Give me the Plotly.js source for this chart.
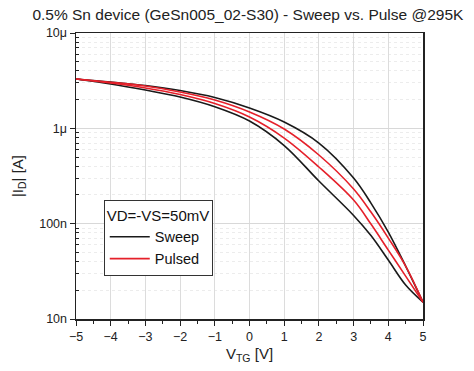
<!DOCTYPE html>
<html>
<head>
<meta charset="utf-8">
<script src="https://cdn.plot.ly/plotly-3.0.1.min.js"></script>
<style>html,body{margin:0;padding:0;background:#fff;}#chart{width:474px;height:371px;}</style>
</head>
<body>
<div id="chart"></div>
<script>
var vtg = [-5, -4, -3, -2, -1, 0, 1, 2, 3, 3.5, 4, 4.5, 5];
var sweepA = [3.29e-6, 3.06e-6, 2.81e-6, 2.49e-6, 2.105e-6, 1.633e-6, 1.164e-6, 7.01e-7, 3.01e-7, 1.645e-7, 8.16e-8, 3.59e-8, 1.50e-8];
var sweepB = [3.29e-6, 2.92e-6, 2.52e-6, 2.13e-6, 1.685e-6, 1.193e-6, 6.60e-7, 2.80e-7, 1.22e-7, 7.5e-8, 4.15e-8, 2.27e-8, 1.50e-8];
var pulsedA = [3.29e-6, 3.04e-6, 2.78e-6, 2.40e-6, 1.98e-6, 1.483e-6, 9.83e-7, 5.25e-7, 2.31e-7, 1.323e-7, 7.06e-8, 3.59e-8, 1.50e-8];
var pulsedB = [3.29e-6, 2.99e-6, 2.65e-6, 2.26e-6, 1.82e-6, 1.314e-6, 7.91e-7, 3.93e-7, 1.768e-7, 9.90e-8, 5.28e-8, 2.82e-8, 1.50e-8];
var yTickVals = [1e-8, 1e-7, 1e-6, 1e-5];
var yTickText = ['10n', '100n', '1\u03bc', '10\u03bc'];
var yMinorVals = [2e-8,3e-8,4e-8,5e-8,6e-8,7e-8,8e-8,9e-8,
                  2e-7,3e-7,4e-7,5e-7,6e-7,7e-7,8e-7,9e-7,
                  2e-6,3e-6,4e-6,5e-6,6e-6,7e-6,8e-6,9e-6];
var xTickVals = [-5, -4, -3, -2, -1, 0, 1, 2, 3, 4, 5];
var xMinorVals = [-4.5, -3.5, -2.5, -1.5, -0.5, 0.5, 1.5, 2.5, 3.5, 4.5];

var black = '#1a1a1a', red = '#e5202a';
function tr(y, color, name, show) {
  return {x: vtg, y: y, type: 'scatter', mode: 'lines', name: name, showlegend: show,
    line: {color: color, width: 1.6, shape: 'spline', smoothing: 1}};
}
var data = [
  tr(sweepA, black, 'Sweep', true),
  tr(sweepB, black, 'Sweep', false),
  tr(pulsedA, red, 'Pulsed', true),
  tr(pulsedB, red, 'Pulsed', false)
];
var fam = 'Liberation Sans, Arial, sans-serif';
var layout = {
  width: 474, height: 371,
  margin: {l: 76, r: 51, t: 33, b: 52},
  paper_bgcolor: '#fff', plot_bgcolor: '#fff',
  font: {family: fam, size: 12, color: '#222'},
  title: {text: '0.5% Sn device (GeSn005_02-S30) - Sweep vs. Pulse @295K', x: 0.523, xanchor: 'center', y: 0.962, yanchor: 'middle',
    font: {family: fam, size: 15.5, color: '#222'}},
  xaxis: {range: [-5, 5], tickmode: 'array', tickvals: xTickVals, ticks: 'outside', ticklen: 5, tickwidth: 1, tickcolor: '#222',
    showline: true, linecolor: '#222', linewidth: 1.5, mirror: true, zeroline: false,
    showgrid: true, gridcolor: '#dcdcdc', gridwidth: 1,
    minor: {tickmode: 'array', tickvals: xMinorVals, ticks: 'outside', ticklen: 3, tickcolor: '#222', showgrid: false},
    tickfont: {size: 12.5, color: '#222'},
    title: {text: 'V<sub>TG</sub> [V]', standoff: 6, font: {size: 15, color: '#222'}}},
  yaxis: {type: 'log', range: [-8, -5], tickmode: 'array', tickvals: yTickVals, ticktext: yTickText, ticks: 'outside', ticklen: 5, tickwidth: 1, tickcolor: '#222',
    showline: true, linecolor: '#222', linewidth: 1.5, mirror: true, zeroline: false,
    showgrid: true, gridcolor: '#d8d8d8', gridwidth: 1,
    minor: {tickmode: 'array', tickvals: yMinorVals, ticks: 'inside', ticklen: 3, tickcolor: '#222', showgrid: true, gridcolor: '#ececec', griddash: 'dot'},
    tickfont: {size: 12.5, color: '#222'},
    title: {text: '|I<sub>D</sub>| [A]', standoff: 12, font: {size: 15, color: '#222'}}},
  legend: {x: 0.08, y: 0.415, xanchor: 'left', yanchor: 'top', bgcolor: '#fff', bordercolor: '#333', borderwidth: 1,
    font: {size: 14.5, color: '#111'}, title: {text: 'VD=-VS=50mV', font: {size: 15, color: '#111'}},
    tracegroupgap: 0, itemwidth: 40}
};
Plotly.newPlot('chart', data, layout, {displayModeBar: false, staticPlot: true});
</script>
</body>
</html>
